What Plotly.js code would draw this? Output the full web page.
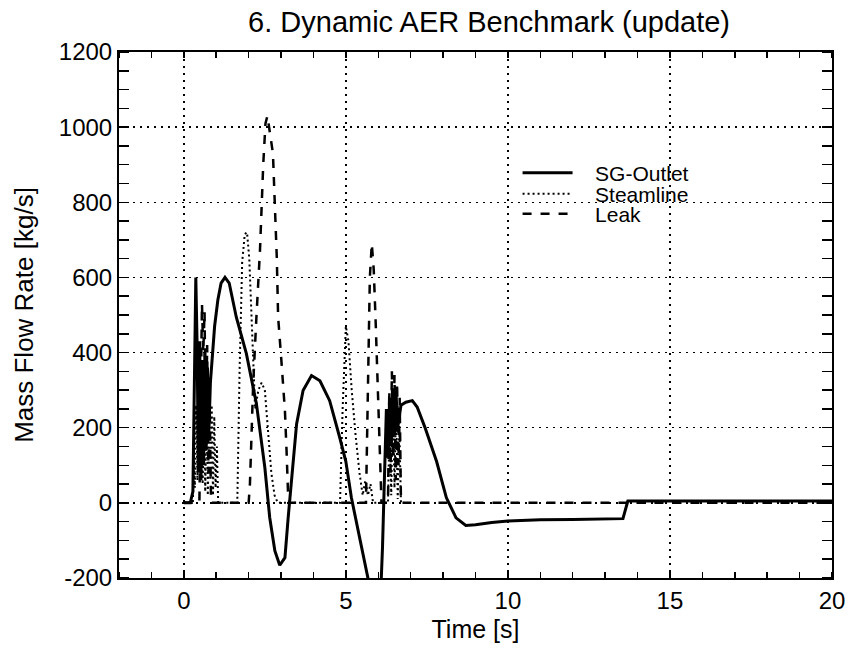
<!DOCTYPE html>
<html>
<head>
<meta charset="utf-8">
<script src="https://cdn.plot.ly/plotly-3.0.1.min.js"></script>
<style>html,body{margin:0;padding:0;background:#fff;}#chart{width:850px;height:651px;}</style>
</head>
<body>
<div id="chart"></div>
<script>
// Time [s] and mass flow rate [kg/s] values
var tSG = [0,0.2,0.28,0.33,0.37,0.41,0.45,0.49,0.53,0.57,0.61,0.65,0.69,0.73,0.77,0.82,0.88,0.95,1.05,1.15,1.27,1.4,1.62,1.93,2.24,2.5,2.65,2.81,2.96,3.12,3.22,3.32,3.48,3.68,3.94,4.2,4.5,4.81,5.0,5.17,5.4,5.6,5.8,5.95,6.08,6.13,6.2,6.25,6.3,6.35,6.4,6.45,6.5,6.55,6.6,6.7,6.85,7.05,7.2,7.44,7.8,8.1,8.4,8.7,9.0,9.5,10,11,12,13,13.55,13.62,13.7,15,20];
var vSG = [0,0,30,350,600,420,80,430,60,380,100,400,140,360,180,320,400,470,540,585,600,585,494,397,264,94,-39,-128,-166,-146,-39,50,210,299,339,325,272,174,110,14,-80,-160,-250,-290,-230,-119,104,250,120,280,150,300,180,290,200,260,268,272,255,201,110,14,-40,-60,-58,-52,-48,-45,-44,-43,-42,-20,5,5,5];

var tSteam = [0,0.28,0.31,0.34,0.38,0.42,0.46,0.5,0.54,0.58,0.62,0.66,0.7,0.74,0.78,0.82,0.86,0.9,0.94,0.98,1.02,1.06,1.1,1.65,1.72,1.8,1.88,1.95,2.02,2.1,2.2,2.3,2.4,2.5,2.6,2.7,2.8,2.9,3.0,4.82,4.9,5.0,5.08,5.18,5.3,5.42,5.52,5.6,5.68,5.76,5.84,5.92,6.3,6.35,6.4,6.45,6.5,6.55,6.6,6.65,6.7,6.8];
var vSteam = [0,0,150,40,260,60,240,90,270,50,220,30,250,20,180,60,260,20,230,40,150,0,0,0,350,640,715,720,650,450,250,300,320,300,200,80,20,0,0,0,250,470,430,300,180,80,20,60,20,50,0,0,0,220,20,300,40,260,10,200,0,0];

var tLeak = [0,0.48,0.52,0.56,0.6,0.64,0.68,0.72,0.76,0.8,0.84,2.0,2.04,2.09,2.14,2.24,2.35,2.45,2.52,2.58,2.64,2.75,2.87,2.91,3.01,3.12,3.17,3.22,3.26,5.62,5.68,5.74,5.8,5.86,5.92,5.98,6.04,6.1,6.3,6.34,6.38,6.42,6.46,6.5,6.54,6.58,6.62,6.66,6.7,20];
var vLeak = [0,0,250,530,400,510,150,420,80,250,0,0,50,183,316,494,672,900,1010,1030,990,930,650,494,379,245,139,14,0,0,300,600,690,620,480,330,200,0,0,300,80,350,120,340,60,320,100,280,0,0];

var seriesNames = ['SG-Outlet', 'Steamline', 'Leak'];
var yTickVals = [-200, 0, 200, 400, 600, 800, 1000, 1200];
var yTickText = ['-200', '0', '200', '400', '600', '800', '1000', '1200'];
var xTickVals = [0, 5, 10, 15, 20];
var xTickText = ['0', '5', '10', '15', '20'];
var titleText = '6. Dynamic AER Benchmark (update)';
var xTitle = 'Time [s]';
var yTitle = 'Mass Flow Rate [kg/s]';

var FONT = 'Liberation Sans, Arial, Helvetica, sans-serif';
var PAD = '\u00a0\u00a0\u00a0';

var traces = [
  {x: tSG, y: vSG, name: PAD + seriesNames[0], mode: 'lines', legend: 'legend',
   line: {color: '#000', width: 3}},
  {x: tSteam, y: vSteam, name: PAD + seriesNames[1], mode: 'lines', legend: 'legend2',
   line: {color: '#000', width: 2, dash: '2px,3px'}},
  {x: tLeak, y: vLeak, name: PAD + seriesNames[2], mode: 'lines', legend: 'legend3',
   line: {color: '#000', width: 2.5, dash: 'dash'}}
];

function leg(yc) {
  return {x: 0.559, y: yc, xanchor: 'left', yanchor: 'middle', bgcolor: 'rgba(0,0,0,0)',
          borderwidth: 0, font: {family: FONT, size: 21, color: '#000'}, itemwidth: 50};
}

var axisCommon = {
  showline: true, linecolor: '#000', linewidth: 2, mirror: 'allticks',
  showgrid: true, gridcolor: '#000', gridwidth: 1.5, griddash: '2px,5px',
  zeroline: false, ticks: '', tickmode: 'array',
  tickfont: {family: FONT, size: 24, color: '#000'}
};

var layout = {
  width: 850, height: 651,
  margin: {l: 119, r: 18, t: 52, b: 73},
  paper_bgcolor: '#fff', plot_bgcolor: '#fff',
  font: {family: FONT, color: '#000'},
  showlegend: true,
  title: {text: titleText, font: {family: FONT, size: 29, color: '#000'},
          xref: 'paper', x: 0.519, xanchor: 'center', yref: 'container', y: 0.966, yanchor: 'middle'},
  xaxis: Object.assign({}, axisCommon, {
    range: [-2, 20], tickvals: xTickVals, ticktext: xTickText,
    minor: {dtick: 1, tick0: 0, ticks: 'inside', ticklen: 6, tickwidth: 1.5, tickcolor: '#000', showgrid: false},
    title: {text: xTitle, font: {family: FONT, size: 25, color: '#000'}, standoff: 8}
  }),
  yaxis: Object.assign({}, axisCommon, {
    range: [-200, 1200], tickvals: yTickVals, ticktext: yTickText,
    minor: {dtick: 50, tick0: 0, ticks: 'inside', ticklen: 10, tickwidth: 1.5, tickcolor: '#000', showgrid: false},
    title: {text: yTitle, font: {family: FONT, size: 26, color: '#000'}, standoff: 18}
  }),
  legend: leg(0.770),
  legend2: leg(0.730),
  legend3: leg(0.692)
};

Plotly.newPlot('chart', traces, layout, {displayModeBar: false, staticPlot: true});
</script>
</body>
</html>
